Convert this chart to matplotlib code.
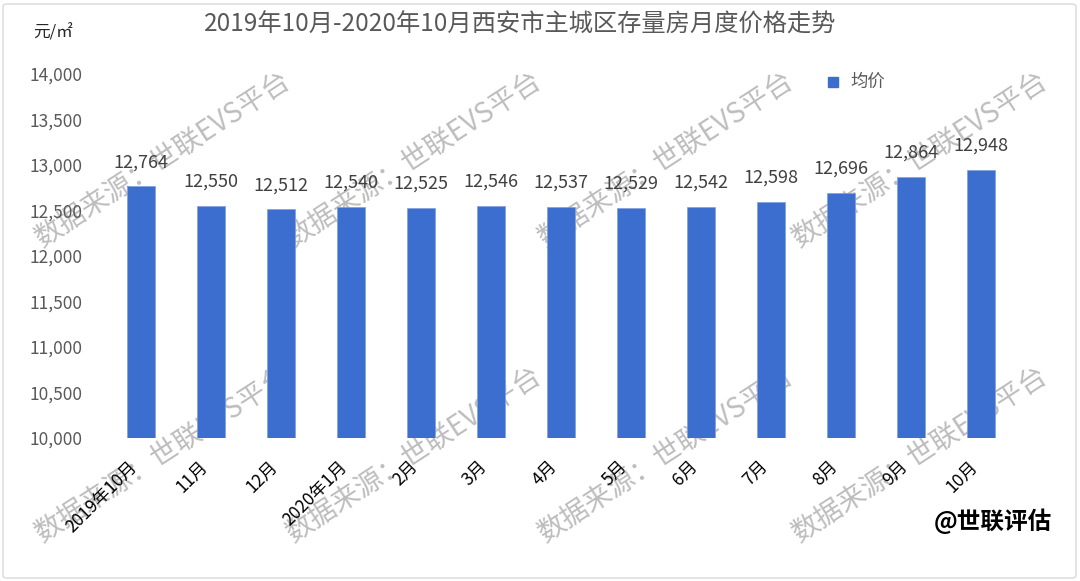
import matplotlib
matplotlib.use("Agg")
import matplotlib.pyplot as plt
from matplotlib.patches import FancyBboxPatch, Rectangle

plt.rcParams['font.family'] = ['Noto Sans CJK SC', 'DejaVu Sans']

categories = ["2019年10月", "11月", "12月", "2020年1月", "2月", "3月", "4月",
              "5月", "6月", "7月", "8月", "9月", "10月"]
values = [12764, 12550, 12512, 12540, 12525, 12546, 12537, 12529, 12542,
          12598, 12696, 12864, 12948]
yticks = [10000, 10500, 11000, 11500, 12000, 12500, 13000, 13500, 14000]
title = "2019年10月-2020年10月西安市主城区存量房月度价格走势"
series_name = "均价"
unit = "元/㎡"
watermark = "数据来源：世联EVS平台"
brand = "@世联评估"

W, H = 1080, 581
fig = plt.figure(figsize=(W / 100, H / 100), dpi=100)
fig.patch.set_facecolor("white")

ax = fig.add_axes([106 / W, 1 - 438 / H, 910 / W, (438 - 74) / H])
ax.set_facecolor("none")
ax.set_zorder(1)

bar_color = "#3B6ECF"
x = list(range(len(categories)))
ax.bar(x, [v - yticks[0] for v in values], bottom=yticks[0], width=0.39,
       color=bar_color, edgecolor="#7fa0e0", linewidth=0.5, label=series_name)
for xi, v in zip(x, values):
    ax.annotate(f"{v:,}", (xi, v), xytext=(0, 11), textcoords="offset points",
                ha="center", va="bottom", fontsize=13, color="#404040")

ax.set_xlim(-0.5, len(categories) - 0.5)
ax.set_ylim(yticks[0], yticks[-1])
ax.set_yticks(yticks)
ax.set_yticklabels([f"{t:,}" for t in yticks], fontsize=12.5, color="#595959")
ax.set_xticks(x)
ax.set_xticklabels(categories, rotation=45, ha="right", va="top",
                   fontsize=12.5, color="black")
ax.tick_params(axis="y", length=0, pad=17)
ax.tick_params(axis="x", length=0, pad=14)
for s in ax.spines.values():
    s.set_visible(False)

# title and unit
fig.text(520 / W, 1 - 25 / H, title, ha="center", va="center",
         fontsize=17.5, color="#595959")
fig.text(53 / W, 1 - 33 / H, unit, ha="center", va="center",
         fontsize=12, color="#262626")

# legend
fig.patches.append(Rectangle((828 / W, 1 - 87 / H), 10 / W, 10 / H,
                             transform=fig.transFigure, color=bar_color))
fig.text(850 / W, 1 - 82 / H, series_name, ha="left", va="center",
         fontsize=12.5, color="#595959")

# watermarks
for cy in [160, 455]:
    for cx in [163, 414, 666, 920]:
        fig.text(cx / W, 1 - cy / H, watermark, ha="center", va="center",
                 rotation=33, rotation_mode="anchor", fontsize=20,
                 fontweight="light", color="#bdbdbd", zorder=0)

# brand
fig.text(1052 / W, 1 - 521 / H, brand, ha="right", va="center",
         fontsize=17, fontweight="bold", color="black")

# border
fig.patches.append(FancyBboxPatch((3 / W, 3 / H), 1 - 7 / W, 1 - 7 / H,
                                  boxstyle="round,pad=0,rounding_size=0.004",
                                  transform=fig.transFigure, fill=False,
                                  edgecolor="#d9d9d9", linewidth=1))

fig.savefig("out.png", dpi=100)
